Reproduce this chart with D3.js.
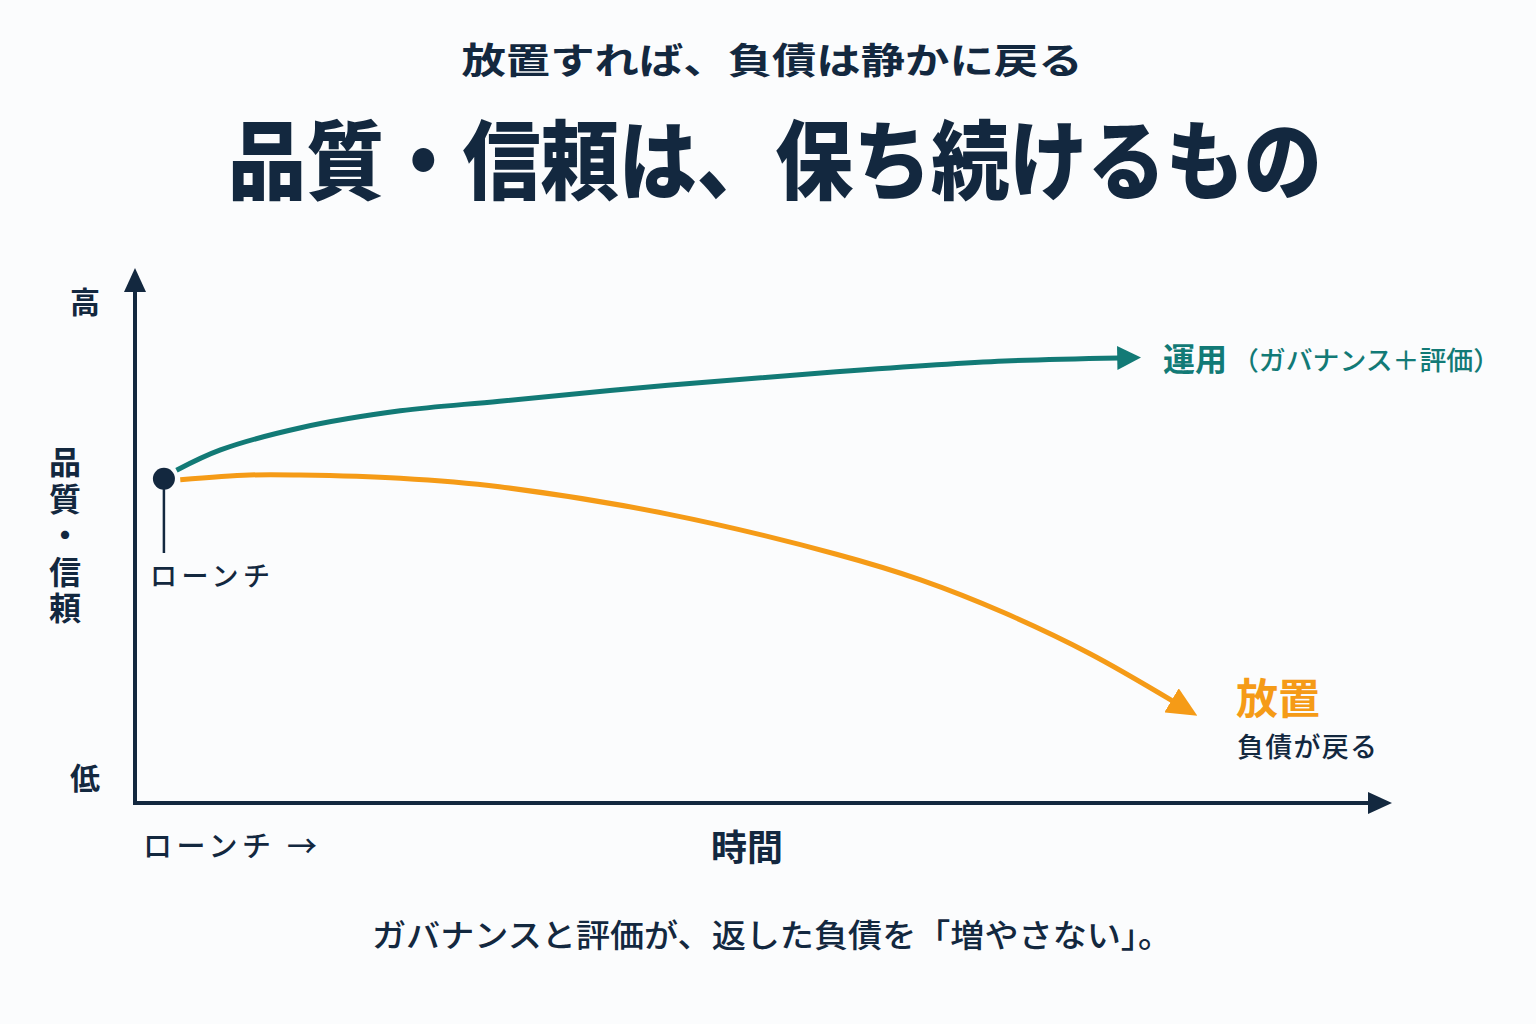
<!DOCTYPE html>
<html><head><meta charset="utf-8">
<script src="https://cdn.jsdelivr.net/npm/d3@7"></script>
<style>
html,body{margin:0;padding:0;background:#fbfcfd;}
svg{display:block;}
text{font-family:"Noto Sans CJK JP","Noto Sans CJK SC",sans-serif;}
</style></head>
<body>
<svg id="c" width="1536" height="1024"></svg>
<script>
// ---- data ----
const subtitle = "放置すれば、負債は静かに戻る";
const title = "品質・信頼は、保ち続けるもの";
const caption = "ガバナンスと評価が、返した負債を「増やさない」。";
const yHigh = "高", yLow = "低";
const yLabel = "品質・信頼";
const xLabel = "時間";
const xStartLabel = ["ローンチ", "→"];
const launchLabel = "ローンチ";
const opsLabelMain = "運用";
const opsLabelSub = "（ガバナンス＋評価）";
const neglectLabelMain = "放置";
const neglectLabelSub = "負債が戻る";
// launch point (time, quality) on 0-100 scales
const launch = [2.3, 60.6];
// 運用 (governance + evaluation) curve
const opsTime    = [3.3, 6.8, 13.1, 21.1, 29.0, 42.4, 55.8, 69.2, 78.3];
const opsQuality = [62.2, 66.0, 70.1, 73.3, 75.1, 78.1, 80.6, 82.6, 83.2];
// 放置 (neglect) curve
const negTime    = [3.6, 9.1, 13.1, 21.1, 29.0, 42.4, 55.8, 62.5, 69.2, 75.9, 82.6];
const negQuality = [60.4, 61.3, 61.3, 60.7, 59.1, 54.0, 46.5, 41.7, 35.5, 28.0, 19.0];

// ---- drawing ----
const navy = "#13283f", teal = "#127a76", orange = "#f59b17";
const svg = d3.select("#c");
svg.append("rect").attr("width",1536).attr("height",1024).attr("fill","#fbfcfd");

const x = d3.scaleLinear().domain([0,100]).range([135,1392]);
const y = d3.scaleLinear().domain([0,100]).range([803,268]);

// titles
svg.append("text").attr("x",772).attr("y",74).attr("text-anchor","middle")
  .attr("font-size",36).attr("font-weight",600).attr("fill",navy)
  .attr("textLength",621).attr("lengthAdjust","spacingAndGlyphs").text(subtitle);
svg.append("text").attr("x",775).attr("y",193).attr("text-anchor","middle")
  .attr("font-size",86).attr("font-weight",900).attr("fill",navy)
  .attr("textLength",1094).attr("lengthAdjust","spacingAndGlyphs").text(title);

// defs for arrowheads
const defs = svg.append("defs");
function marker(id,color,w,h){
  defs.append("marker").attr("id",id).attr("viewBox",`0 0 ${w} ${h}`)
    .attr("refX",2).attr("refY",h/2).attr("markerWidth",w).attr("markerHeight",h)
    .attr("markerUnits","userSpaceOnUse").attr("orient","auto")
    .append("path").attr("d",`M0,0L${w},${h/2}L0,${h}Z`).attr("fill",color);
}
marker("aNavy",navy,24,22);
marker("aTeal",teal,24,24);
marker("aOrange",orange,30,28);

// axes
svg.append("line").attr("x1",x(0)).attr("y1",y(0)+2).attr("x2",x(0)).attr("y2",y(100)+22)
  .attr("stroke",navy).attr("stroke-width",4).attr("marker-end","url(#aNavy)");
svg.append("line").attr("x1",x(0)-2).attr("y1",y(0)).attr("x2",x(100)-22).attr("y2",y(0))
  .attr("stroke",navy).attr("stroke-width",4).attr("marker-end","url(#aNavy)");

// axis labels
svg.append("text").attr("x",85).attr("y",313).attr("text-anchor","middle")
  .attr("font-size",30).attr("font-weight",700).attr("fill",navy).text(yHigh);
svg.append("text").attr("x",85).attr("y",789).attr("text-anchor","middle")
  .attr("font-size",30).attr("font-weight",700).attr("fill",navy).text(yLow);
svg.append("text").attr("x",65).attr("y",446)
  .attr("writing-mode","vertical-rl").attr("glyph-orientation-vertical",0)
  .attr("font-size",32).attr("font-weight",700).attr("fill",navy)
  .attr("textLength",178).attr("lengthAdjust","spacing").text(yLabel);
const xs = svg.append("text").attr("x",143).attr("y",857)
  .attr("font-size",29).attr("font-weight",500).attr("fill",navy);
xs.append("tspan").attr("textLength",128).attr("lengthAdjust","spacing").text(xStartLabel[0]);
xs.append("tspan").attr("x",287).attr("font-size",30).text(xStartLabel[1]);
svg.append("text").attr("x",711).attr("y",861)
  .attr("font-size",36).attr("font-weight",700).attr("fill",navy).text(xLabel);

// curves
const line = d3.line().x(d=>x(d[0])).y(d=>y(d[1])).curve(d3.curveCatmullRom.alpha(0.5));
const opsPts = opsTime.map((t,i)=>[t,opsQuality[i]]);
const negPts = negTime.map((t,i)=>[t,negQuality[i]]);
svg.append("path").attr("d",line(opsPts)).attr("fill","none").attr("stroke",teal)
  .attr("stroke-width",5).attr("stroke-linecap","butt").attr("marker-end","url(#aTeal)");
svg.append("path").attr("d",line(negPts)).attr("fill","none").attr("stroke",orange)
  .attr("stroke-width",5).attr("stroke-linecap","butt").attr("marker-end","url(#aOrange)");

// launch marker
svg.append("line").attr("x1",x(launch[0])).attr("x2",x(launch[0]))
  .attr("y1",y(launch[1])).attr("y2",553).attr("stroke",navy).attr("stroke-width",2.5);
svg.append("circle").attr("cx",x(launch[0])).attr("cy",y(launch[1])).attr("r",11).attr("fill",navy);
svg.append("text").attr("x",150).attr("y",586)
  .attr("font-size",27).attr("font-weight",500).attr("fill",navy)
  .attr("textLength",120).attr("lengthAdjust","spacing").text(launchLabel);

// series labels
svg.append("text").attr("x",1163).attr("y",371).attr("fill",teal)
  .attr("font-size",32).attr("font-weight",700).text(opsLabelMain);
svg.append("text").attr("x",1232).attr("y",370).attr("fill",teal)
  .attr("font-size",26).attr("font-weight",500)
  .attr("textLength",268).attr("lengthAdjust","spacingAndGlyphs").text(opsLabelSub);

svg.append("text").attr("x",1236).attr("y",714).attr("fill",orange)
  .attr("font-size",42).attr("font-weight",700).text(neglectLabelMain);
svg.append("text").attr("x",1237).attr("y",757).attr("fill",navy)
  .attr("font-size",27).attr("font-weight",500)
  .attr("textLength",140).attr("lengthAdjust","spacing").text(neglectLabelSub);

// caption
svg.append("text").attr("x",772).attr("y",947).attr("text-anchor","middle")
  .attr("font-size",32).attr("font-weight",500).attr("fill",navy)
  .attr("textLength",800).attr("lengthAdjust","spacingAndGlyphs").text(caption);
</script>
</body></html>
